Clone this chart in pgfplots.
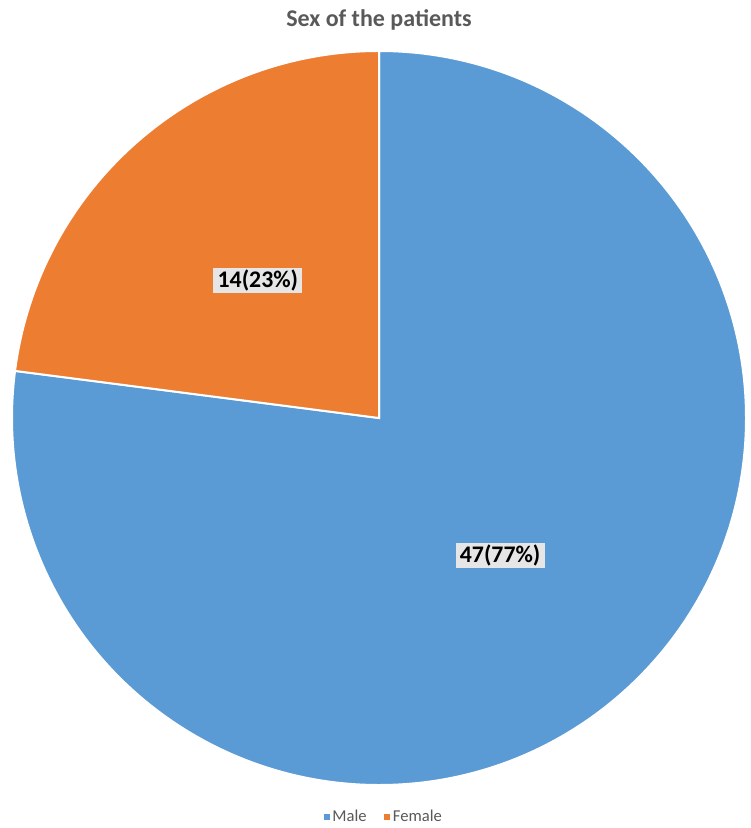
\documentclass[border=0pt]{standalone}
\usepackage{fontspec}
\setmainfont{Carlito}
\usepackage{pgfplots}
\usepackage{pgfplotstable}
\pgfplotsset{compat=1.18}
\definecolor{male}{HTML}{5B9BD5}
\definecolor{female}{HTML}{ED7D31}
\definecolor{txtgrey}{HTML}{595959}
\definecolor{lblbg}{HTML}{E7E6E6}

\pgfplotstableread{
name value
Male 47
Female 14
}\piedata

\begin{document}
\begin{tikzpicture}
\pgfplotstablegetelem{0}{value}\of\piedata \let\vm\pgfplotsretval
\pgfplotstablegetelem{1}{value}\of\piedata \let\vf\pgfplotsretval
\pgfmathsetmacro\tot{\vm+\vf}
\pgfmathsetmacro\fm{\vm/\tot}
\pgfmathsetmacro\ff{\vf/\tot}
\pgfmathsetmacro\am{360*\fm}
\pgfmathsetmacro\ea{90-\am}
\pgfmathsetmacro\midm{90-\am/2}
\pgfmathsetmacro\midf{(\ea-270)/2}
\pgfmathtruncatemacro\pcm{round(100*\fm)}
\pgfmathtruncatemacro\pcf{round(100*\ff)}
\path[use as bounding box] (-189.5pt,-205pt) rectangle (185.5pt,209pt);
\node[anchor=base, text=txtgrey, font=\bfseries\fontsize{12}{14}\selectfont] at (0,195.5pt) {Sex of the patients};
\begin{axis}[at={(0,0)}, anchor=center, scale only axis,
  width=367pt, height=367pt,
  xmin=-1, xmax=1, ymin=-1, ymax=1,
  hide axis, clip=false,
  legend columns=2,
  legend style={draw=none, fill=none, at={(0.507,-0.0436)}, anchor=center,
    font=\fontsize{8.3}{9}\selectfont, text=txtgrey, inner sep=0pt,
    /tikz/every even column/.append style={column sep=7.5pt},
    nodes={inner sep=1.3pt}},
  legend image code/.code={\fill[#1] (0pt,-1.3pt) rectangle (2.6pt,1.3pt);},
]
\addlegendimage{male}
\addlegendentry{Male}
\addlegendimage{female}
\addlegendentry{Female}
\fill[male, draw=white, line width=1pt] (axis cs:0,0) -- (axis cs:0,1)
  arc[start angle=90, end angle=\ea, radius=183.5pt] -- cycle;
\fill[female, draw=white, line width=1pt] (axis cs:0,0) -- (axis cs:{cos(\ea)},{sin(\ea)})
  arc[start angle=\ea, end angle=-270, radius=183.5pt] -- cycle;
\node[fill=lblbg, font=\bfseries\fontsize{11.9}{13}\selectfont, minimum width=44.5pt,
  minimum height=12.5pt, inner sep=0pt] at (axis cs:{0.5*cos(\midm)},{0.5*sin(\midm)}) {\vm(\pcm\%)};
\node[fill=lblbg, font=\bfseries\fontsize{11.9}{13}\selectfont, minimum width=44.5pt,
  minimum height=12.5pt, inner sep=0pt] at (axis cs:{0.5*cos(\midf)},{0.5*sin(\midf)}) {\vf(\pcf\%)};
\end{axis}
\end{tikzpicture}
\end{document}
